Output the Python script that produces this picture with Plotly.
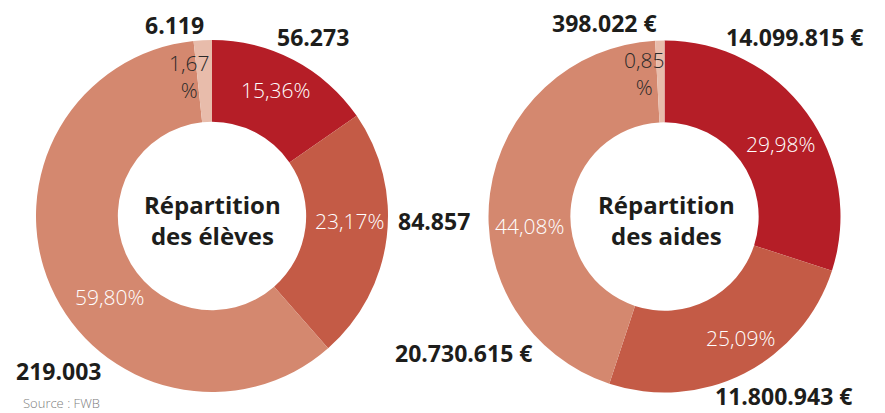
import plotly.graph_objects as go

W, H = 885, 413

# ---- data ----
categories = ["Cat 1", "Cat 2", "Cat 3", "Cat 4"]
eleves = [56273, 84857, 219003, 6119]
aides = [14099815, 11800943, 20730615, 398022]
colors = ["#B51E27", "#C45B46", "#D4886F", "#E8BCAB"]
center_titles = ["Répartition<br>des élèves", "Répartition<br>des aides"]
source_text = "Source : FWB"


def fmt_int(v):
    return f"{v:,}".replace(",", ".")


def fmt_pct(v, total):
    return f"{v / total * 100:.2f}".replace(".", ",") + "%"


def px(x, y):
    return x / W, 1 - y / H


R = 176
pies = [
    dict(values=eleves, cx=212, cy=216, euro=False),
    dict(values=aides, cx=664.5, cy=216.5, euro=True),
]

fig = go.Figure()
for p in pies:
    fig.add_trace(go.Pie(
        labels=categories, values=p["values"], sort=False, direction="clockwise",
        rotation=0, hole=0.535, textinfo="none", hoverinfo="skip", showlegend=False,
        marker=dict(colors=colors, line=dict(width=0)),
        domain=dict(x=[(p["cx"] - R) / W, (p["cx"] + R) / W],
                    y=[1 - (p["cy"] + R) / H, 1 - (p["cy"] - R) / H]),
    ))

# label positions (pixels)
value_pos = [
    [(313, 37), (434, 221), (58, 371), (174, 25)],
    [(794, 37), (783, 396), (463, 353), (604, 23)],
]
pct_pos = [
    [(275, 90), (349, 221), (109, 297), (189, 76)],
    [(780, 144), (740, 338), (529, 226), (644, 73)],
]
center_pos = [(212, 220), (666, 220)]

ann = []
bold_font = dict(family="Open Sans", size=23, color="#1d1d1b", weight="bold")
for i, p in enumerate(pies):
    vals = p["values"]
    total = sum(vals)
    for j, v in enumerate(vals):
        t = fmt_int(v) + (" €" if p["euro"] else "")
        x, y = px(*value_pos[i][j])
        ann.append(dict(x=x, y=y, xref="paper", yref="paper", text=t, showarrow=False,
                        font=bold_font, xanchor="center", yanchor="middle"))
        pt = fmt_pct(v, total)
        small = j == len(vals) - 1
        if small:
            pt = pt[:-1] + "<br>%"
        x, y = px(*pct_pos[i][j])
        ann.append(dict(x=x, y=y, xref="paper", yref="paper", text=pt, showarrow=False,
                        font=dict(family="Open Sans", size=21, weight=300,
                                  color="#2a2a2a" if small else "#ffffff"),
                        xanchor="center", yanchor="middle"))
    x, y = px(*center_pos[i])
    ann.append(dict(x=x, y=y, xref="paper", yref="paper", text=center_titles[i],
                    showarrow=False, font=dict(family="Open Sans", size=24, color="#1d1d1b",
                                               weight="bold"),
                    xanchor="center", yanchor="middle"))

x, y = px(21, 403)
ann.append(dict(x=x, y=y, xref="paper", yref="paper", text=source_text, showarrow=False,
                font=dict(family="Open Sans", size=13, color="#808080", weight=300),
                xanchor="left", yanchor="middle"))

fig.update_layout(
    width=W, height=H, margin=dict(l=0, r=0, t=0, b=0),
    paper_bgcolor="white", plot_bgcolor="white", annotations=ann,
)

fig.write_html("out.html", config={"displayModeBar": False},
               post_script="document.body.style.margin='0';document.body.style.overflow='hidden';")
